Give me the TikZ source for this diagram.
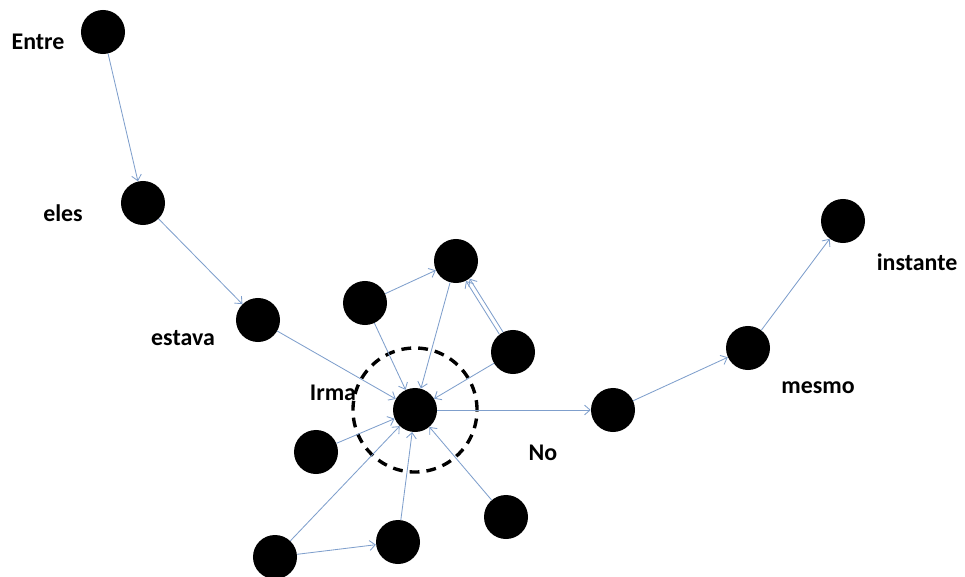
\documentclass[tikz,border=0pt]{standalone}
\usepackage{fontspec}
\setmainfont{Carlito}
\definecolor{EdgeBlue}{HTML}{7F9FCC}
\usetikzlibrary{arrows.meta}

\begin{document}
\begin{tikzpicture}[
  x=0.025cm, y=-0.025cm,
  word/.style={circle, fill=black, minimum size=1.1cm, inner sep=0pt},
  tag/.style={font=\fontsize{17}{20}\selectfont\bfseries},
  link/.style={draw=EdgeBlue, line width=0.6pt,
    -{Straight Barb[length=4pt, width=7pt]}}
]
  % Frame (pixel grid of the reference)
  \useasboundingbox (0,0) rectangle (965,577);

  % Chain at the top left
  \node[word] (entre) at (103,32) {};
  \node[word] (eles) at (143,203) {};
  \node[word] (estava) at (258,320) {};

  % Hub and its neighbours
  \node[word] (irma) at (415,410) {};
  \node[circle, draw, line width=2.4pt,
    dash pattern=on 7pt off 5pt, minimum size=3.1cm]
    (ring) at (415,410) {};
  \node[word] (upa) at (365,303) {};
  \node[word] (upb) at (456,261) {};
  \node[word] (upc) at (513,352) {};
  \node[word] (lowd) at (316,452) {};
  \node[word] (lowe) at (506,517) {};
  \node[word] (lowf) at (398,542) {};
  \node[word] (lowg) at (275,557) {};

  % Chain to the right
  \node[word] (no) at (613,410) {};
  \node[word] (mesmo) at (748,348) {};
  \node[word] (instante) at (843,221) {};

  % Labels
  \node[tag] (lentre) at (38,42) {Entre};
  \node[tag] (leles) at (63,213) {eles};
  \node[tag] (lestava) at (183,338) {estava};
  \node[tag] (lirma) at (333,393) {Irma};
  \node[tag] (lno) at (543,453) {No};
  \node[tag] (lmesmo) at (818,388) {mesmo};
  \node[tag] (linstante) at (917,262) {instante};

  % Edges
  \draw[link] (entre) -- (eles);
  \draw[link] (eles) -- (estava);
  \draw[link] (estava) -- (irma);
  \draw[link] (upa) -- (irma);
  \draw[link] (upa) -- (upb);
  \draw[link] (upb) -- (irma);
  \draw[link, transform canvas={shift={(1.3pt,0.8pt)}}] (upc) -- (upb);
  \draw[link, transform canvas={shift={(-1.3pt,-0.8pt)}}] (upc) -- (upb);
  \draw[link] (upc) -- (irma);
  \draw[link] (lowd) -- (irma);
  \draw[link] (lowg) -- (irma);
  \draw[link] (lowg) -- (lowf);
  \draw[link] (lowf) -- (irma);
  \draw[link] (lowe) -- (irma);
  \draw[link] (irma) -- (no);
  \draw[link] (no) -- (mesmo);
  \draw[link] (mesmo) -- (instante);
\end{tikzpicture}
\end{document}
